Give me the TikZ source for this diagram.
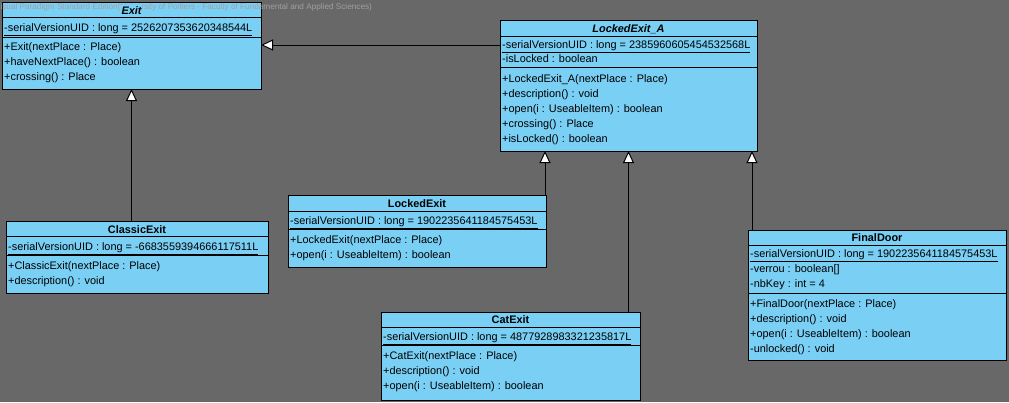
\documentclass[tikz,border=0pt]{standalone}
\usepackage{fontspec}
\setmainfont{Liberation Sans}
\usetikzlibrary{arrows.meta}
\definecolor{bggray}{RGB}{104,104,104}
\definecolor{clsfill}{RGB}{122,207,245}
\definecolor{wmark}{RGB}{160,160,160}
\tikzset{
  clsbox/.style={draw=black, fill=clsfill, line width=1pt, inner sep=0pt, outer sep=0pt, anchor=north west},
  sepline/.style={draw=black, line width=0.9pt},
  memtext/.style={anchor=west, inner sep=0pt, yshift=-1.5pt, font=\fontsize{10.9pt}{12pt}\selectfont, text height=8pt, text depth=2.5pt},
  ttltext/.style={anchor=center, inner sep=0pt, yshift=-1.5pt, font=\fontsize{10.9pt}{12pt}\selectfont\bfseries, text height=8pt, text depth=2.5pt},
  ttlitext/.style={ttltext, font=\fontsize{10.9pt}{12pt}\selectfont\bfseries\itshape},
  inh/.style={draw=black, line width=1pt, -{Triangle[length=12pt, width=11pt, fill=white]}},
}
\newcommand{\umlrow}[4]{\node[memtext] (#1) at (#2,#3) {#4};}
\begin{document}
\begin{tikzpicture}[x=1pt,y=-1pt]
\useasboundingbox (0,0) rectangle (1009,402);
\fill[bggray] (0,0) rectangle (1009,402);

% ---------- Exit ----------
\node[clsbox, minimum width=259pt, minimum height=87pt] (exit) at (2,2) {};
\draw[sepline] (2,17) -- (261,17);
\draw[sepline] (2,37) -- (261,37);
\umlrow{exita}{4}{27}{\underline{-serialVersionUID : long = 2526207353620348544L}}
\umlrow{exitm1}{4}{46}{+Exit(nextPlace : Place)}
\umlrow{exitm2}{4}{61}{+haveNextPlace() : boolean}
\umlrow{exitm3}{4}{76}{+crossing() : Place}

% ---------- LockedExit_A ----------
\node[clsbox, minimum width=257pt, minimum height=131pt] (lea) at (500,20) {};
\node[ttlitext] (leat) at (628.5,28) {LockedExit\_A};
\draw[sepline] (500,36) -- (757,36);
\draw[sepline] (500,67) -- (757,67);
\umlrow{leaa1}{502}{44}{\underline{-serialVersionUID : long = 2385960605454532568L}}
\umlrow{leaa2}{502}{58}{-isLocked : boolean}
\umlrow{leam1}{502}{78}{+LockedExit\_A(nextPlace : Place)}
\umlrow{leam2}{502}{93}{+description() : void}
\umlrow{leam3}{502}{108}{+open(i : UseableItem) : boolean}
\umlrow{leam4}{502}{123}{+crossing() : Place}
\umlrow{leam5}{502}{138}{+isLocked() : boolean}

% ---------- ClassicExit ----------
\node[clsbox, minimum width=262pt, minimum height=72pt] (classic) at (6,221) {};
\node[ttltext] (classict) at (137,229) {ClassicExit};
\draw[sepline] (6,236) -- (268,236);
\draw[sepline] (6,255) -- (268,255);
\umlrow{classica}{8}{246}{\underline{-serialVersionUID : long = -6683559394666117511L}}
\umlrow{classicm1}{8}{265}{+ClassicExit(nextPlace : Place)}
\umlrow{classicm2}{8}{280}{+description() : void}

% ---------- LockedExit ----------
\node[clsbox, minimum width=258pt, minimum height=72pt] (locked) at (288,195) {};
\node[ttltext] (lockedt) at (417,203) {LockedExit};
\draw[sepline] (288,211) -- (546,211);
\draw[sepline] (288,229) -- (546,229);
\umlrow{lockeda}{290}{220}{\underline{-serialVersionUID : long = 1902235641184575453L}}
\umlrow{lockedm1}{290}{239}{+LockedExit(nextPlace : Place)}
\umlrow{lockedm2}{290}{254}{+open(i : UseableItem) : boolean}

% ---------- CatExit ----------
\node[clsbox, minimum width=259pt, minimum height=88pt] (cat) at (381,312) {};
\node[ttltext] (catt) at (510.5,319) {CatExit};
\draw[sepline] (381,327) -- (640,327);
\draw[sepline] (381,345) -- (640,345);
\umlrow{cata}{383}{336}{\underline{-serialVersionUID : long = 4877928983321235817L}}
\umlrow{catm1}{383}{355}{+CatExit(nextPlace : Place)}
\umlrow{catm2}{383}{370}{+description() : void}
\umlrow{catm3}{383}{385}{+open(i : UseableItem) : boolean}

% ---------- FinalDoor ----------
\node[clsbox, minimum width=258pt, minimum height=130pt] (fd) at (748,230) {};
\node[ttltext] (fdt) at (877,237) {FinalDoor};
\draw[sepline] (748,245) -- (1006,245);
\draw[sepline] (748,293) -- (1006,293);
\umlrow{fda1}{750}{253}{\underline{-serialVersionUID : long = 1902235641184575453L}}
\umlrow{fda2}{750}{268}{-verrou : boolean[]}
\umlrow{fda3}{750}{283}{-nbKey : int = 4}
\umlrow{fdm1}{750}{303}{+FinalDoor(nextPlace : Place)}
\umlrow{fdm2}{750}{318}{+description() : void}
\umlrow{fdm3}{750}{333}{+open(i : UseableItem) : boolean}
\umlrow{fdm4}{750}{348}{-unlocked() : void}

% ---------- generalisations ----------
\draw[inh] (lea.west |- 0,45) -- (exit.east |- 0,45);
\draw[inh] (exit.south |- classic.north) -- (exit.south);
\draw[inh] ([xshift=-1pt]locked.north east) -- ([xshift=-1pt]locked.north east |- lea.south);
\draw[inh] (lea.south |- cat.north) -- (lea.south);
\draw[inh] ([xshift=4pt]fd.north west) -- ([xshift=4pt]fd.north west |- lea.south);

% ---------- watermark ----------
\node[anchor=west, inner sep=0pt, text=wmark, font=\fontsize{8.2pt}{9pt}\selectfont] (wm) at (-5,7) {Visual Paradigm Standard Edition(University of Poitiers - Faculty of Fundamental and Applied Sciences)};
\node[ttlitext, fill=clsfill, inner xsep=1pt, text height=9pt, text depth=3pt] (exitt) at (131.5,9.5) {Exit};
\end{tikzpicture}
\end{document}
